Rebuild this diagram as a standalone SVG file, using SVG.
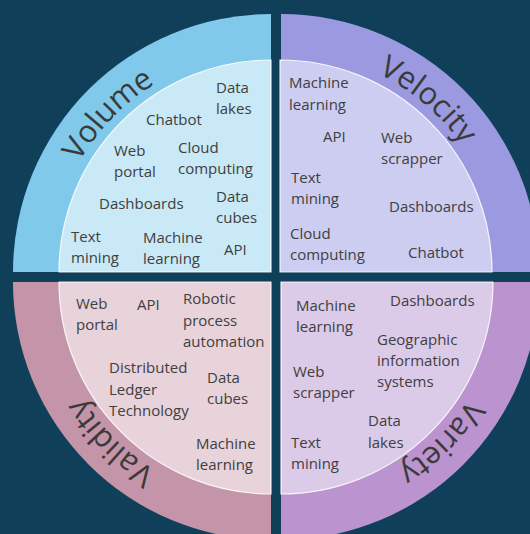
<svg xmlns="http://www.w3.org/2000/svg" xmlns:xlink="http://www.w3.org/1999/xlink" width="530" height="534" viewBox="0 0 530 534">
<style>
.t{font-family:"Open Sans","Liberation Sans",sans-serif;font-size:15px;fill:#404040}
.lbl{font-family:"Open Sans","Liberation Sans",sans-serif;font-size:31px;fill:#3a3a3a}
.in{stroke:#ffffff;stroke-width:1.2;stroke-opacity:0.85}
</style>
<defs>
<path id="pVol" d="M 50,272 A 221 221 0 0 1 271,51"/>
<path id="pVel" d="M 281,51 A 221 221 0 0 1 502,272"/>
<path id="pVar" d="M 502,282 A 221 221 0 0 1 281,503"/>
<path id="pVal" d="M 271,503 A 221 221 0 0 1 50,282"/>
</defs>
<rect width="530" height="534" fill="#103f5a"/>
<g id="volume">
<path d="M 271,272 L 13,272 A 258 258 0 0 1 271,14 Z" fill="#80c9ea"/>
<path class="in" d="M 271,272 L 59,272 A 212 212 0 0 1 271,60 Z" fill="#c9e9f6"/>
<text class="lbl"><textPath xlink:href="#pVol" href="#pVol" startOffset="49%" text-anchor="middle">Volume</textPath></text>
<text class="t" x="216" y="93">Data</text><text class="t" x="216" y="114">lakes</text>
<text class="t" x="146" y="125">Chatbot</text>
<text class="t" x="114" y="156">Web</text><text class="t" x="114" y="177">portal</text>
<text class="t" x="178" y="153">Cloud</text><text class="t" x="178" y="174">computing</text>
<text class="t" x="99" y="209">Dashboards</text>
<text class="t" x="216" y="202">Data</text><text class="t" x="216" y="223">cubes</text>
<text class="t" x="71" y="242">Text</text><text class="t" x="71" y="263">mining</text>
<text class="t" x="143" y="243">Machine</text><text class="t" x="143" y="264">learning</text>
<text class="t" x="224" y="255">API</text>
</g>
<g id="velocity">
<path d="M 281,272 L 281,14 A 258 258 0 0 1 539,272 Z" fill="#9b9ae1"/>
<path class="in" d="M 280,272 L 280,60 A 212 212 0 0 1 492,272 Z" fill="#cccdf1"/>
<text class="lbl"><textPath xlink:href="#pVel" href="#pVel" startOffset="45%" text-anchor="middle">Velocity</textPath></text>
<text class="t" x="289" y="88">Machine</text><text class="t" x="289" y="110">learning</text>
<text class="t" x="323" y="142">API</text>
<text class="t" x="381" y="143">Web</text><text class="t" x="381" y="164">scrapper</text>
<text class="t" x="291" y="183">Text</text><text class="t" x="291" y="204">mining</text>
<text class="t" x="389" y="212">Dashboards</text>
<text class="t" x="290" y="239">Cloud</text><text class="t" x="290" y="260">computing</text>
<text class="t" x="408" y="258">Chatbot</text>
</g>
<g id="validity">
<path d="M 271,282 L 13,282 A 258 258 0 0 0 271,540 Z" fill="#c495a8"/>
<path class="in" d="M 271,282 L 59,282 A 212 212 0 0 0 271,494 Z" fill="#e8d3db"/>
<text class="lbl"><textPath xlink:href="#pVal" href="#pVal" startOffset="50%" text-anchor="middle">Validity</textPath></text>
<text class="t" x="76" y="309">Web</text><text class="t" x="76" y="330">portal</text>
<text class="t" x="137" y="310">API</text>
<text class="t" x="183" y="304">Robotic</text><text class="t" x="183" y="326">process</text><text class="t" x="183" y="347">automation</text>
<text class="t" x="109" y="373">Distributed</text><text class="t" x="109" y="395">Ledger</text><text class="t" x="109" y="416">Technology</text>
<text class="t" x="207" y="383">Data</text><text class="t" x="207" y="404">cubes</text>
<text class="t" x="196" y="449">Machine</text><text class="t" x="196" y="470">learning</text>
</g>
<g id="variety">
<path d="M 281,282 L 539,282 A 258 258 0 0 1 281,540 Z" fill="#ba93cf"/>
<path class="in" d="M 281,282 L 493,282 A 212 212 0 0 1 281,494 Z" fill="#dccae9"/>
<text class="lbl"><textPath xlink:href="#pVar" href="#pVar" startOffset="50%" text-anchor="middle">Variety</textPath></text>
<text class="t" x="296" y="311">Machine</text><text class="t" x="296" y="332">learning</text>
<text class="t" x="390" y="306">Dashboards</text>
<text class="t" x="377" y="345">Geographic</text><text class="t" x="377" y="366">information</text><text class="t" x="377" y="387">systems</text>
<text class="t" x="293" y="377">Web</text><text class="t" x="293" y="398">scrapper</text>
<text class="t" x="368" y="426">Data</text><text class="t" x="368" y="448">lakes</text>
<text class="t" x="291" y="448">Text</text><text class="t" x="291" y="469">mining</text>
</g>
<g id="connectors"/>
</svg>
